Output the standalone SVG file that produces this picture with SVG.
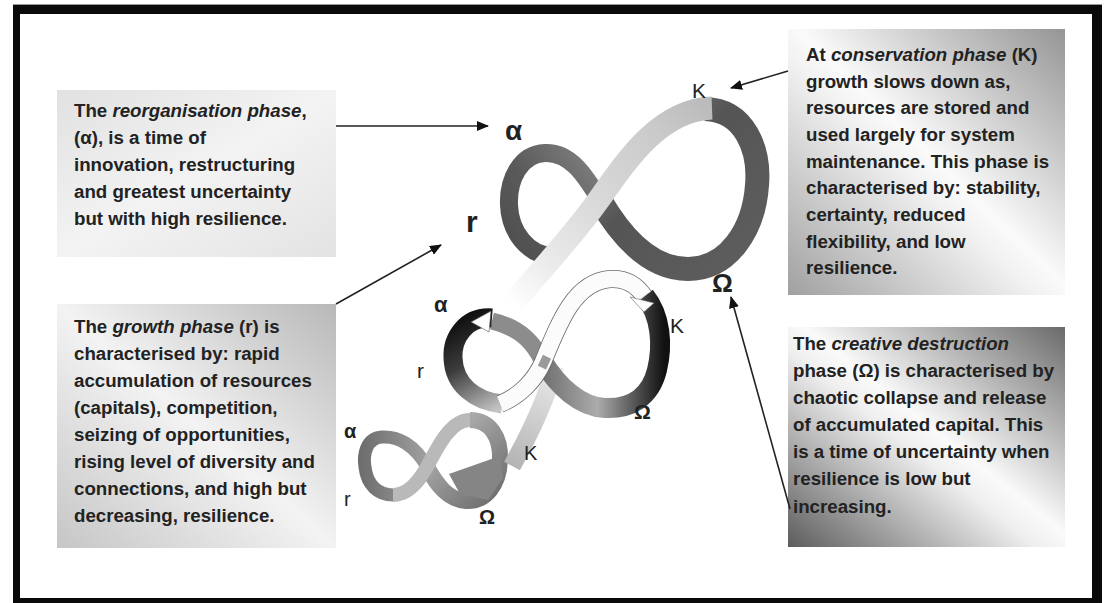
<svg xmlns="http://www.w3.org/2000/svg" width="1107" height="603" viewBox="0 0 1107 603">
<defs>
<style>
.t{font-family:"Liberation Sans",Arial,sans-serif;font-weight:bold;font-size:18.7px;fill:#222}
.i{font-style:italic}
.lbl{font-family:"Liberation Sans",Arial,sans-serif;fill:#222}
.con{stroke:#222;stroke-width:1.6;fill:none;marker-end:url(#ah)}
</style>
<marker id="ah" markerUnits="userSpaceOnUse" markerWidth="12" markerHeight="10" refX="11" refY="5" orient="auto">
<path d="M0,0 L12,5 L0,10 z" fill="#111"/>
</marker>
<linearGradient id="g1" x1="0" y1="0" x2="1" y2="1">
<stop offset="0" stop-color="#e1e1e1"/><stop offset="0.5" stop-color="#f3f3f3"/><stop offset="1" stop-color="#e3e3e3"/>
</linearGradient>
<linearGradient id="g2" x1="1" y1="0" x2="0" y2="1">
<stop offset="0" stop-color="#959595"/><stop offset="0.48" stop-color="#fafafa"/><stop offset="0.55" stop-color="#f2f2f2"/><stop offset="1" stop-color="#a0a0a0"/>
</linearGradient>
<linearGradient id="g3" x1="1" y1="0" x2="0" y2="1">
<stop offset="0" stop-color="#b8b8b8"/><stop offset="0.5" stop-color="#f3f3f3"/><stop offset="1" stop-color="#c6c6c6"/>
</linearGradient>
<linearGradient id="g4" x1="1" y1="0" x2="0" y2="1">
<stop offset="0" stop-color="#6a6a6a"/><stop offset="0.47" stop-color="#fafafa"/><stop offset="0.55" stop-color="#efefef"/><stop offset="1" stop-color="#5c5c5c"/>
</linearGradient>
<linearGradient id="lightBand" gradientUnits="userSpaceOnUse" x1="512" y1="305" x2="705" y2="108">
<stop offset="0" stop-color="#ffffff"/><stop offset="0.2" stop-color="#ebebeb"/><stop offset="0.5" stop-color="#d8d8d8"/><stop offset="0.8" stop-color="#cbcbcb"/><stop offset="1" stop-color="#bcbcbc"/>
</linearGradient>
<linearGradient id="bigR" gradientUnits="userSpaceOnUse" x1="600" y1="110" x2="760" y2="270">
<stop offset="0" stop-color="#7c7c7c"/><stop offset="0.4" stop-color="#555"/><stop offset="1" stop-color="#5e5e5e"/>
</linearGradient>
<linearGradient id="bigL" gradientUnits="userSpaceOnUse" x1="600" y1="180" x2="510" y2="250">
<stop offset="0" stop-color="#7a7a7a"/><stop offset="0.5" stop-color="#5a5a5a"/><stop offset="1" stop-color="#4f4f4f"/>
</linearGradient>
<linearGradient id="midR" gradientUnits="userSpaceOnUse" x1="543" y1="0" x2="664" y2="0">
<stop offset="0" stop-color="#707070"/><stop offset="0.45" stop-color="#ababab"/><stop offset="0.8" stop-color="#4a4a4a"/><stop offset="1" stop-color="#111"/>
</linearGradient>
<linearGradient id="midL" gradientUnits="userSpaceOnUse" x1="455" y1="318" x2="505" y2="405">
<stop offset="0" stop-color="#0c0c0c"/><stop offset="0.45" stop-color="#3c3c3c"/><stop offset="1" stop-color="#c4c4c4"/>
</linearGradient>
<linearGradient id="longBand" gradientUnits="userSpaceOnUse" x1="555" y1="365" x2="512" y2="465">
<stop offset="0" stop-color="#ececec"/><stop offset="1" stop-color="#b4b4b4"/>
</linearGradient>
<linearGradient id="smL" gradientUnits="userSpaceOnUse" x1="362" y1="0" x2="430" y2="0">
<stop offset="0" stop-color="#6e6e6e"/><stop offset="1" stop-color="#a2a2a2"/>
</linearGradient>
<linearGradient id="smR" gradientUnits="userSpaceOnUse" x1="430" y1="420" x2="505" y2="500">
<stop offset="0" stop-color="#bdbdbd"/><stop offset="0.6" stop-color="#8a8a8a"/><stop offset="1" stop-color="#6a6a6a"/>
</linearGradient>
</defs>

<rect width="1107" height="603" fill="#fff"/>
<!-- frame -->
<path d="M13,5 H1102 V603 H13 Z M20,14 V598 H1092 V14 Z" fill="#0a0a0a" fill-rule="evenodd"/>
<line x1="13" y1="4.5" x2="1102" y2="4.5" stroke="#999" stroke-width="1"/>

<!-- figure: panarchy ribbons -->
<g id="figure">
  <!-- small figure -->
  <g id="small-loop">
    <path d="M427,467 C415,445 398,436 382,437 C366,438 363,455 365,467 C367,485 378,495 393,495 C408,495 420,481 427,467" fill="none" stroke="url(#smL)" stroke-width="13"/>
    <path d="M427,467 C437,485 448,500 466,501 C486,502 499,485 500,460 C501,437 490,420 470,420" fill="none" stroke="url(#smR)" stroke-width="16"/>
    <path d="M393,495 C408,495 418,482 427,467 C440,442 452,420 470,420" fill="none" stroke="#b9b9b9" stroke-width="14"/>
  </g>
  <path id="long-band" d="M555,366 C547,398 532,430 512,466" fill="none" stroke="url(#longBand)" stroke-width="18"/>
  <polygon points="449,474 500,456 503,478 488,500 460,494" fill="#858585"/>

  <!-- big figure (drawn before middle so its tail passes behind) -->
  <g id="big-loop">
    <path d="M705,109 C745,110 760,150 757,185 C754,230 728,269 688,269 C650,269 622,238 600,200" fill="none" stroke="url(#bigR)" stroke-width="24"/>
    <path d="M600,200 C585,175 570,152 545,153 C520,154 508,180 509,205 C510,232 528,255 552,256" fill="none" stroke="url(#bigL)" stroke-width="18"/>
    <path d="M512,305 C542,268 570,240 600,198 C630,155 662,110 712,108" fill="none" stroke="url(#lightBand)" stroke-width="23"/>
  </g>

  <!-- middle figure -->
  <g id="middle-loop">
    <path d="M645,296 C661,316 663,345 657,370 C650,398 630,409 605,408 C580,407 558,386 543,362" fill="none" stroke="url(#midR)" stroke-width="20"/>
    <path d="M543,362 C535,345 522,328 492,321" fill="none" stroke="#8c8c8c" stroke-width="17"/>
    <path d="M492,318 C466,316 452,338 453,358 C454,385 475,401 502,404" fill="none" stroke="url(#midL)" stroke-width="19"/>
    <polygon points="471,322 491,311 489,332" fill="#fff" stroke="#555" stroke-width="0.6"/>
    <path d="M500,404 C520,396 535,380 543,362 C560,320 575,282 610,279 C628,278 638,287 644,296" fill="none" stroke="#6a6a6a" stroke-width="18"/>
    <path d="M500,404 C520,396 535,380 543,362 C560,320 575,282 610,279 C628,278 638,287 644,296" fill="none" stroke="#fbfbfb" stroke-width="16.4"/>
    <polygon points="630,297 654,303 644,312" fill="#fff" stroke="#666" stroke-width="0.6"/>
    <rect x="540" y="356" width="9" height="12" fill="#9a9a9a" transform="rotate(25 544 362)"/>
  </g>

  <!-- phase labels -->
  <g id="labels">
    <text class="lbl" x="505" y="140" font-size="28" font-weight="bold">α</text>
    <text class="lbl" x="692" y="98" font-size="21">K</text>
    <text class="lbl" x="466" y="232" font-size="30" font-weight="bold">r</text>
    <text class="lbl" x="712" y="292" font-size="26" font-weight="bold">Ω</text>
    <text class="lbl" x="434" y="312" font-size="22" font-weight="bold" fill="#333">α</text>
    <text class="lbl" x="417" y="378" font-size="21" fill="#333">r</text>
    <text class="lbl" x="670" y="333" font-size="21" fill="#333">K</text>
    <text class="lbl" x="634" y="419" font-size="21" font-weight="bold" fill="#333">Ω</text>
    <text class="lbl" x="344" y="438" font-size="20" font-weight="bold" fill="#333">α</text>
    <text class="lbl" x="344" y="506" font-size="20" fill="#333">r</text>
    <text class="lbl" x="524" y="460" font-size="20" fill="#333">K</text>
    <text class="lbl" x="479" y="524" font-size="20" font-weight="bold" fill="#333">Ω</text>
  </g>
</g>

<!-- text boxes -->
<g id="box-reorganisation">
  <rect x="57" y="90" width="279" height="167" fill="url(#g1)"/>
  <text class="t" x="74" y="117">The <tspan class="i">reorganisation phase</tspan>,</text>
  <text class="t" x="74" y="144">(α), is a time of</text>
  <text class="t" x="74" y="171">innovation, restructuring</text>
  <text class="t" x="74" y="198">and greatest uncertainty</text>
  <text class="t" x="74" y="225">but with high resilience.</text>
</g>
<g id="box-conservation">
  <rect x="788" y="29" width="277" height="266" fill="url(#g2)"/>
  <text class="t" x="806" y="61">At <tspan class="i">conservation phase</tspan> (K)</text>
  <text class="t" x="806" y="88">growth slows down as,</text>
  <text class="t" x="806" y="114">resources are stored and</text>
  <text class="t" x="806" y="141">used largely for system</text>
  <text class="t" x="806" y="168">maintenance. This phase is</text>
  <text class="t" x="806" y="194">characterised by: stability,</text>
  <text class="t" x="806" y="221">certainty, reduced</text>
  <text class="t" x="806" y="248">flexibility, and low</text>
  <text class="t" x="806" y="274">resilience.</text>
</g>
<g id="box-growth">
  <rect x="57" y="304" width="279" height="244" fill="url(#g3)"/>
  <text class="t" x="74" y="333">The <tspan class="i">growth phase</tspan> (r) is</text>
  <text class="t" x="74" y="360">characterised by: rapid</text>
  <text class="t" x="74" y="387">accumulation of resources</text>
  <text class="t" x="74" y="414">(capitals), competition,</text>
  <text class="t" x="74" y="441">seizing of opportunities,</text>
  <text class="t" x="74" y="468">rising level of diversity and</text>
  <text class="t" x="74" y="495">connections, and high but</text>
  <text class="t" x="74" y="522">decreasing, resilience.</text>
</g>
<g id="box-creative-destruction">
  <rect x="788" y="327" width="277" height="220" fill="url(#g4)"/>
  <text class="t" x="793" y="350">The <tspan class="i">creative destruction</tspan></text>
  <text class="t" x="793" y="377">phase (Ω) is characterised by</text>
  <text class="t" x="793" y="404">chaotic collapse and release</text>
  <text class="t" x="793" y="431">of accumulated capital. This</text>
  <text class="t" x="793" y="458">is a time of uncertainty when</text>
  <text class="t" x="793" y="485">resilience is low but</text>
  <text class="t" x="793" y="513">increasing.</text>
</g>

<!-- connectors -->
<g id="connectors">
  <line class="con" x1="336" y1="126" x2="488" y2="126"/>
  <line class="con" x1="336" y1="304" x2="441" y2="245"/>
  <line class="con" x1="788" y1="71" x2="731" y2="88"/>
  <line class="con" x1="790" y1="509" x2="731" y2="297"/>
</g>
</svg>
